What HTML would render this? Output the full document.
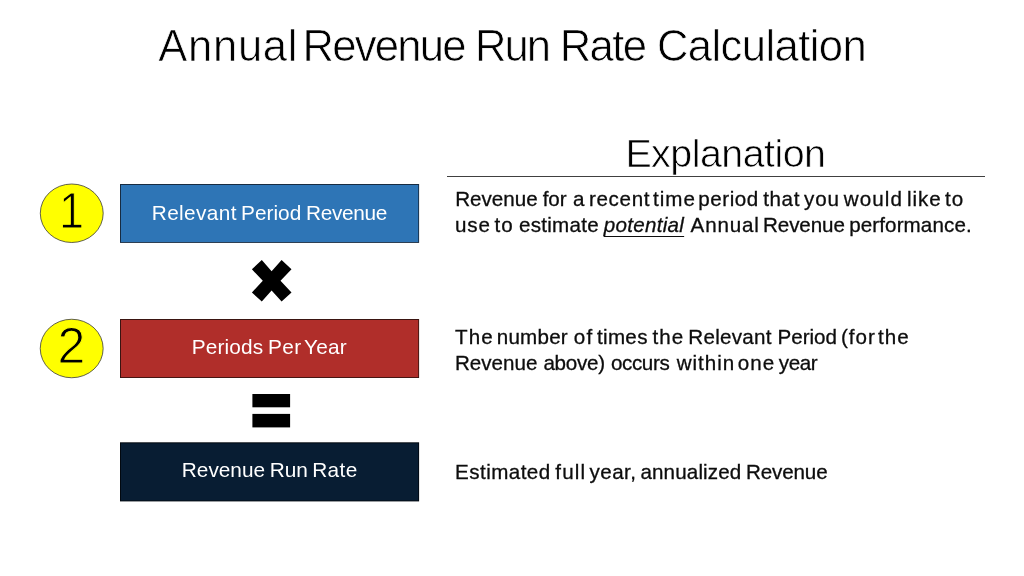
<!DOCTYPE html>
<html lang="en">
<head>
<meta charset="utf-8">
<title>Annual Revenue Run Rate Calculation</title>
<style>
  html, body { margin: 0; padding: 0; background: #ffffff; }
  body { width: 1024px; height: 576px; position: relative; overflow: hidden;
         font-family: "Liberation Sans", sans-serif; color: #000; }
  h1, h2 { font-weight: normal; }
  .t { position: absolute; left: 0; width: 1024px; height: 1em; white-space: pre; line-height: 1; margin: 0; padding: 0; }
  .w { position: absolute; top: 0; left: 0; }
  .body { color: #0d0d0d; }
  u { text-decoration-skip-ink: none; text-underline-offset: 3.6px; text-decoration-thickness: 1.4px; }
  .lbl { color: #fff; }
  #rule  { position: absolute; left: 446.5px; top: 175.75px; width: 538.25px; height: 1px; background: #404040; }
  .num { position: absolute; white-space: nowrap; line-height: 1; font-size: 50px; transform-origin: 0 0; -webkit-text-stroke: 1px #ffff00; }
  #n1 { left: 58.8px; top: 185.9px; transform: scaleX(0.9); }
  #n2 { left: 57.5px; top: 321.2px; }
  svg { position: absolute; left: 0; top: 0; }
</style>
</head>
<body>
<h1 class="t" id="title" style="top:24.9px;font-size:43.6px;-webkit-text-stroke:0.7px #fff"><span class="w" style="left:158.35px;letter-spacing:0.68px">Annual </span><span class="w" style="left:302.45px;letter-spacing:-1.733px">Revenue </span><span class="w" style="left:475.05px;letter-spacing:-1.95px">Run </span><span class="w" style="left:559.7px;letter-spacing:-1.6px">Rate </span><span class="w" style="left:656.95px;letter-spacing:-0.59px">Calculation</span></h1>
<h2 class="t" id="expl" style="top:134.2px;font-size:39.4px;-webkit-text-stroke:0.7px #fff"><span class="w" style="left:625.38px;letter-spacing:-0.525px">Explanation</span></h2>
<div id="rule"></div>

<svg id="shapes" width="1024" height="576" viewBox="0 0 1024 576" aria-hidden="true">
  <ellipse cx="71.75" cy="213.25" rx="31.45" ry="29.25" fill="#ffff00" stroke="#3a3a3a" stroke-width="0.8"/>
  <ellipse cx="71.7" cy="348.5" rx="31.45" ry="29.25" fill="#ffff00" stroke="#3a3a3a" stroke-width="0.8"/>
  <rect x="120" y="184" width="299.1" height="58.9" fill="#172b41"/>
  <rect x="121" y="185" width="297.2" height="57" fill="#2e75b6"/>
  <rect x="120" y="319" width="299.1" height="59" fill="#3a1411"/>
  <rect x="121" y="320" width="297.2" height="57.1" fill="#b02e2a"/>
  <rect x="120" y="442.3" width="299.1" height="59.1" fill="#02080f"/>
  <rect x="121" y="443.3" width="297.2" height="57.2" fill="#081d33"/>
  <polygon fill="#000" points="251.9,269.3 261.8,260.1 271.6,271.3 281.6,260.1 291.5,269.3 280.5,280.8 291.5,292.5 281.6,301.6 271.6,290.6 261.8,301.6 251.9,292.5 262.8,280.8"/>
  <rect fill="#000" x="252.4" y="394" width="37.7" height="13.3"/>
  <rect fill="#000" x="252.4" y="413.9" width="37.7" height="13.5"/>
</svg>

<span class="num" id="n1">1</span>
<span class="num" id="n2">2</span>

<div class="t lbl" id="l1" style="top:202.5px;font-size:20.8px"><span class="w" style="left:151.75px;letter-spacing:0.386px">Relevant </span><span class="w" style="left:241.12px">Period </span><span class="w" style="left:305.95px;letter-spacing:-0.317px">Revenue</span></div>
<div class="t lbl" id="l2" style="top:336.6px;font-size:20.8px"><span class="w" style="left:191.65px;letter-spacing:0.183px">Periods </span><span class="w" style="left:268.0px;letter-spacing:0.4px">Per </span><span class="w" style="left:303.95px;letter-spacing:0.233px">Year</span></div>
<div class="t lbl" id="l3" style="top:460.3px;font-size:20.8px"><span class="w" style="left:181.82px">Revenue </span><span class="w" style="left:269.75px">Run </span><span class="w" style="left:312.18px;letter-spacing:0.383px">Rate</span></div>



<div class="t body" id="p1a" style="top:189.25px;font-size:20.6px;-webkit-text-stroke:0.3px currentColor"><span class="w" style="left:455.25px">Revenue </span><span class="w" style="left:542.65px">for </span><span class="w" style="left:573.1px">a </span><span class="w" style="left:588.95px;letter-spacing:0.68px">recent </span><span class="w" style="left:653.05px;letter-spacing:0.967px">time </span><span class="w" style="left:698.2px;letter-spacing:0.56px">period </span><span class="w" style="left:763.15px;letter-spacing:0.633px">that </span><span class="w" style="left:804.08px;letter-spacing:0.808px">you </span><span class="w" style="left:843.7px;letter-spacing:1.133px">would </span><span class="w" style="left:906.95px;letter-spacing:0.967px">like </span><span class="w" style="left:944.9px;letter-spacing:1.133px">to</span></div>
<div class="t body" id="p1b" style="top:214.75px;font-size:20.6px;-webkit-text-stroke:0.3px currentColor"><span class="w" style="left:455.1px;letter-spacing:0.8px">use </span><span class="w" style="left:494.5px;letter-spacing:1.133px">to </span><span class="w" style="left:518.95px;letter-spacing:0.271px">estimate </span><span class="w" style="left:603.8px;letter-spacing:0.275px"><i><u>potential</u></i> </span><span class="w" style="left:690.6px;letter-spacing:0.8px">Annual </span><span class="w" style="left:763.02px;letter-spacing:-0.092px">Revenue </span><span class="w" style="left:849.18px;letter-spacing:0.105px">performance.</span></div>
<div class="t body" id="p2a" style="top:327.4px;font-size:20.6px;-webkit-text-stroke:0.3px currentColor"><span class="w" style="left:455.0px;letter-spacing:1.133px">The </span><span class="w" style="left:496.7px;letter-spacing:0.24px">number </span><span class="w" style="left:573.8px;letter-spacing:1.133px">of </span><span class="w" style="left:596.92px;letter-spacing:0.338px">times </span><span class="w" style="left:652.4px;letter-spacing:1.1px">the </span><span class="w" style="left:688.22px;letter-spacing:0.293px">Relevant </span><span class="w" style="left:777.5px">Period </span><span class="w" style="left:841.0px;letter-spacing:1.0px">(for </span><span class="w" style="left:877.88px;letter-spacing:1.125px">the</span></div>
<div class="t body" id="p2b" style="top:353.0px;font-size:20.6px;-webkit-text-stroke:0.3px currentColor"><span class="w" style="left:455.0px">Revenue </span><span class="w" style="left:543.42px;letter-spacing:-0.26px">above) </span><span class="w" style="left:610.95px;letter-spacing:-0.38px">occurs </span><span class="w" style="left:676.65px;letter-spacing:1.0px">within </span><span class="w" style="left:737.7px;letter-spacing:1.1px">one </span><span class="w" style="left:778.85px;letter-spacing:-0.433px">year</span></div>
<div class="t body" id="p3a" style="top:462.25px;font-size:20.6px;-webkit-text-stroke:0.3px currentColor"><span class="w" style="left:455.12px;letter-spacing:0.438px">Estimated </span><span class="w" style="left:555.3px;letter-spacing:1.133px">full </span><span class="w" style="left:589.4px;letter-spacing:0.5px">year, </span><span class="w" style="left:640.42px;letter-spacing:0.144px">annualized </span><span class="w" style="left:746.0px;letter-spacing:-0.133px">Revenue</span></div>
</body>
</html>
